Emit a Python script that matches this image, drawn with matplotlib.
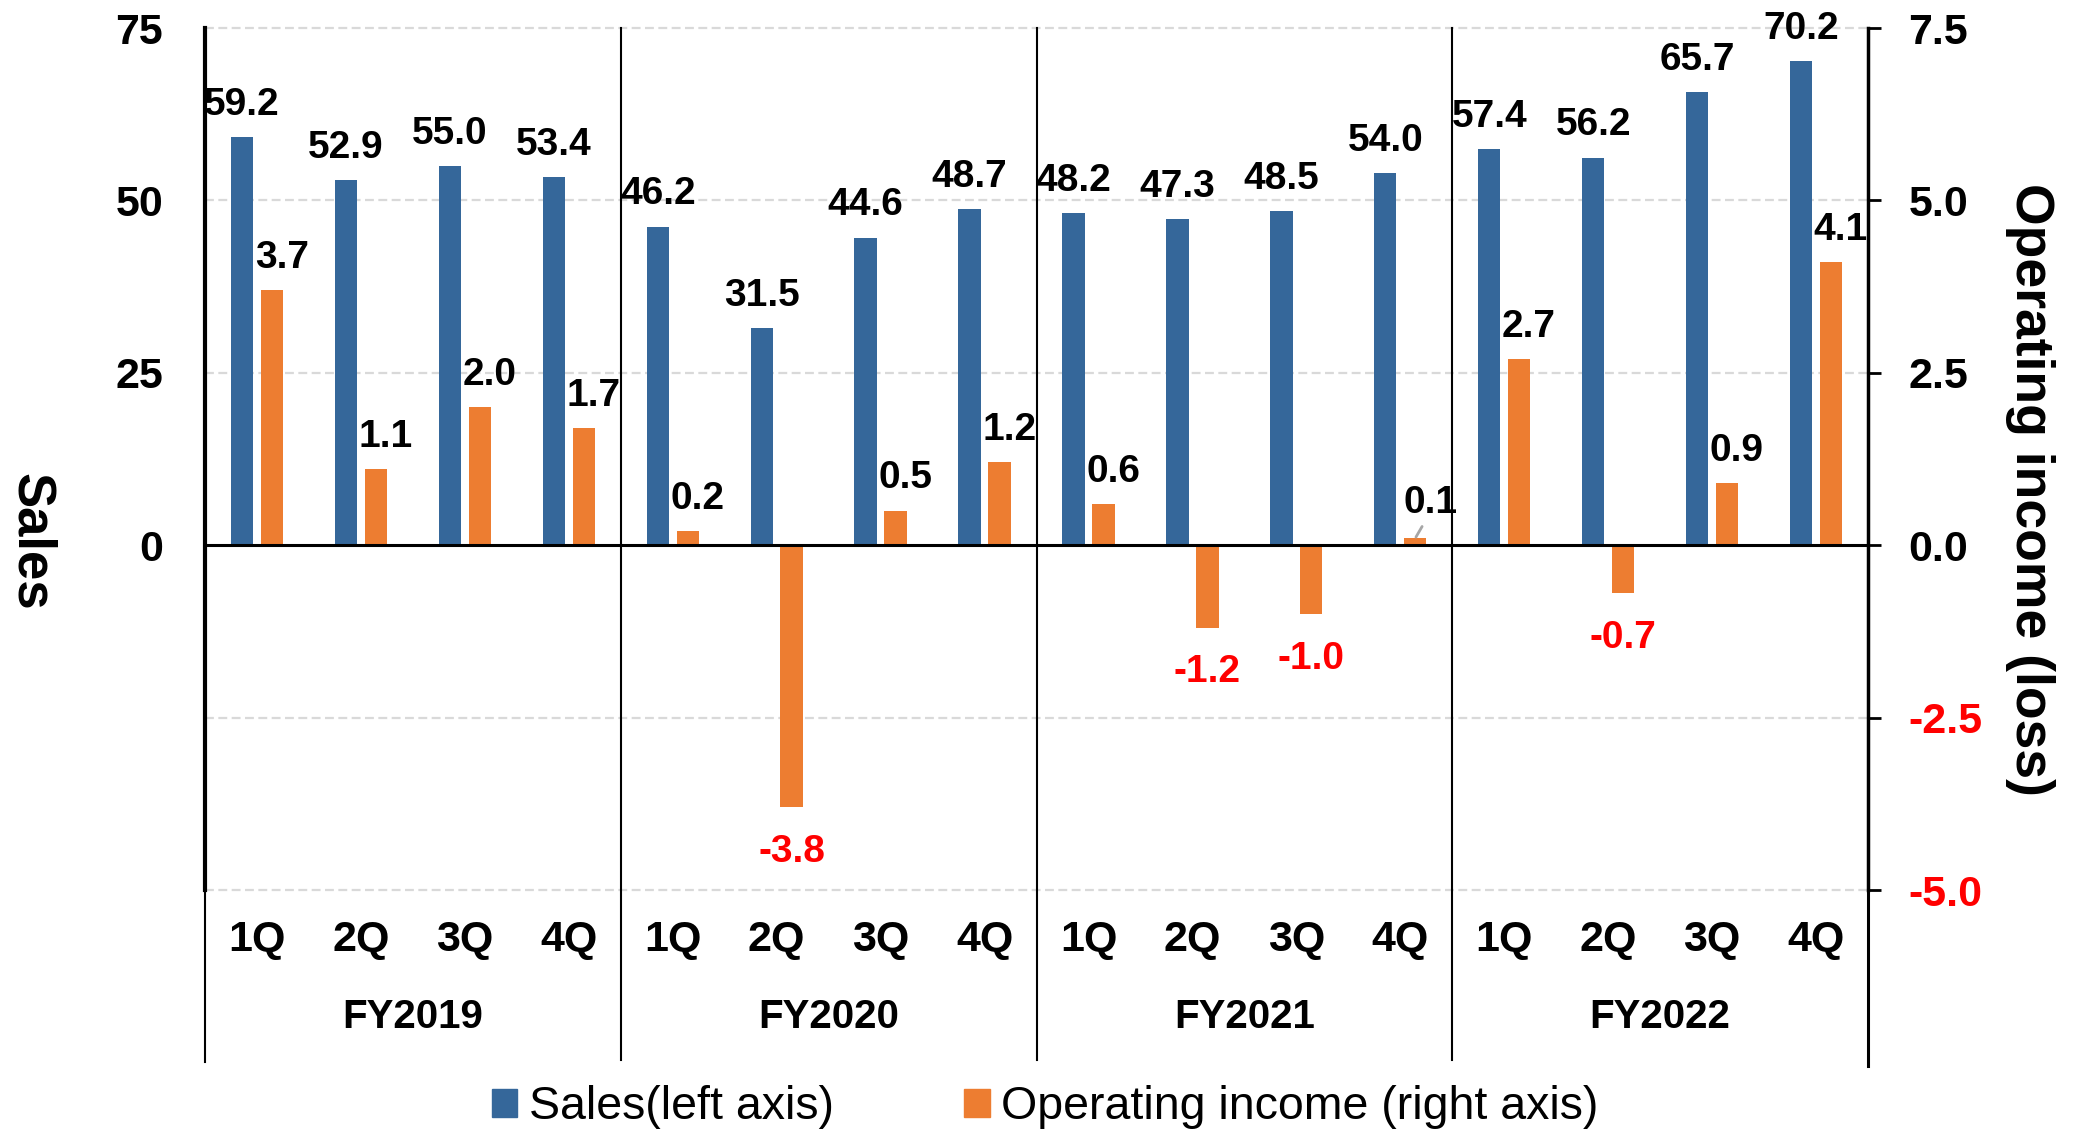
import matplotlib
matplotlib.use('Agg')
from matplotlib import pyplot as plt
from matplotlib.patches import Patch
from matplotlib.transforms import blended_transform_factory
import numpy as np

# chart data
quarters = ['1Q', '2Q', '3Q', '4Q'] * 4
years = ['FY2019', 'FY2020', 'FY2021', 'FY2022']
sales = [59.2, 52.9, 55.0, 53.4, 46.2, 31.5, 44.6, 48.7,
         48.2, 47.3, 48.5, 54.0, 57.4, 56.2, 65.7, 70.2]
op_income = [3.7, 1.1, 2.0, 1.7, 0.2, -3.8, 0.5, 1.2,
             0.6, -1.2, -1.0, 0.1, 2.7, -0.7, 0.9, 4.1]
sales_ticks = [0, 25, 50, 75]
income_ticks = [-5.0, -2.5, 0.0, 2.5, 5.0, 7.5]
grid_levels = [-50, -25, 25, 50, 75]

blue = '#35679A'
orange = '#ED7D31'
red = '#FF0000'

plt.rcParams['font.family'] = ['Liberation Sans', 'DejaVu Sans']
plt.rcParams['font.weight'] = 'bold'

W, H = 2074, 1131
fig = plt.figure(figsize=(W / 100, H / 100), dpi=100)
# plot box in pixels: x 205..1868, y 28..890 (from top)
ax = fig.add_axes([205 / W, 1 - 890 / H, (1868 - 205) / W, (890 - 28) / H])
ax2 = ax.twinx()

x = np.arange(len(sales))
bw = 0.215
off = 0.144

ax.set_xlim(-0.5, len(sales) - 0.5)
ax.set_ylim(-50, 75)
ax2.set_ylim(-5, 7.5)

# dashed grid
for g in grid_levels:
    ax.axhline(g, color='#D9D9D9', lw=1.6, ls=(0, (4, 2)), zorder=0, clip_on=False)

ax.bar(x - off, sales, bw, color=blue, zorder=2)
ax2.bar(x + off, op_income, bw, color=orange, zorder=2)
ax2.axhline(0, color='black', lw=2.2, zorder=3)

# spines
for s in ['top', 'bottom', 'right']:
    ax.spines[s].set_visible(False)
for s in ['top', 'bottom', 'left']:
    ax2.spines[s].set_visible(False)
ax.spines['left'].set_linewidth(3)
ax2.spines['right'].set_linewidth(2.5)

ax.set_xticks([])
ax.set_yticks(sales_ticks)
ax.set_yticklabels([str(t) for t in sales_ticks])
ax.tick_params(axis='y', length=0, pad=30, labelsize=31)

ax2.set_yticks(income_ticks)
ax2.set_yticklabels([f'{t:.1f}' for t in income_ticks])
ax2.tick_params(axis='y', length=9, width=2, pad=20, labelsize=31)
for lbl, t in zip(ax2.get_yticklabels(), income_ticks):
    if t < 0:
        lbl.set_color(red)

# value labels
for xi, v in zip(x, sales):
    ax.annotate(f'{v:.1f}', (xi - off, v), xytext=(0, 16), textcoords='offset points',
                ha='center', va='baseline', fontsize=28, zorder=5)

for xi, v in zip(x, op_income):
    if v >= 0:
        if abs(v) < 0.15:
            # tiny bar: label pushed aside with a leader line
            ax2.annotate(f'{v:.1f}', (xi + off, v), xytext=(11, 18), textcoords='offset points',
                         ha='center', va='baseline', fontsize=28, zorder=5,
                         arrowprops=dict(arrowstyle='-', color='#A6A6A6', lw=2,
                                         relpos=(0.4, 0), shrinkA=2, shrinkB=1))
        else:
            ax2.annotate(f'{v:.1f}', (xi + off, v), xytext=(7, 16), textcoords='offset points',
                         ha='center', va='baseline', fontsize=28, zorder=5)
    else:
        ax2.annotate(f'{v:.1f}', (xi + off, v), xytext=(0, -19), textcoords='offset points',
                     ha='center', va='top', fontsize=28, color=red, zorder=5)

# category axis below the plot
trans = blended_transform_factory(ax.transData, fig.transFigure)
for xi, q in zip(x, quarters):
    ax.text(xi, 1 - 940 / H, q, transform=trans, ha='center', va='center', fontsize=31)
for i, yname in enumerate(years):
    ax.text(i * 4 + 1.5, 1 - 1017 / H, yname, transform=trans, ha='center', va='center', fontsize=29)

for b in [3.5, 7.5, 11.5]:
    ax.plot([b, b], [1 - 28 / H, 1 - 1060 / H], transform=trans, color='black', lw=1.5,
            clip_on=False, zorder=1)
ax.plot([-0.5, -0.5], [1 - 890 / H, 1 - 1062 / H], transform=trans, color='black', lw=1.5,
        clip_on=False)
ax.plot([15.5, 15.5], [1 - 890 / H, 1 - 1066 / H], transform=trans, color='black', lw=2.2,
        clip_on=False)

# axis titles
fig.text(31 / W, 1 - 542 / H, 'Sales', rotation=270, ha='center', va='center', fontsize=38)
fig.text(2030 / W, 1 - 489 / H, 'Operating income (loss)', rotation=270,
         ha='center', va='center', fontsize=38.5)

handles = [Patch(color=blue, label='Sales(left axis)'),
           Patch(color=orange, label='Operating income (right axis)')]
fig.legend(handles=handles, loc='center', bbox_to_anchor=(0.504, 1 - 1107 / H), ncol=2,
           frameon=False, prop={'weight': 'normal', 'size': 33.5},
           handlelength=0.55, handleheight=0.55, handletextpad=0.25,
           columnspacing=2.8, borderpad=0, borderaxespad=0)

fig.savefig('out.png', dpi=100)
